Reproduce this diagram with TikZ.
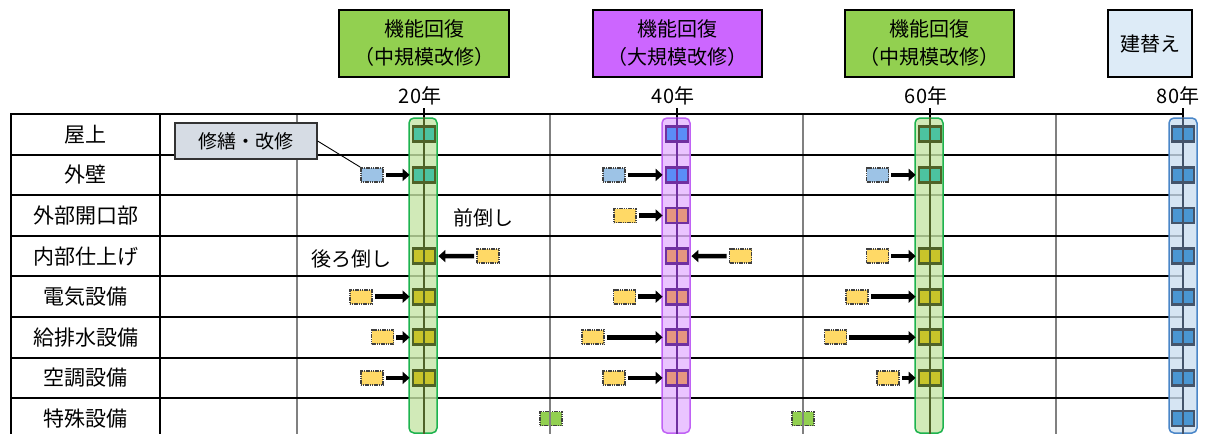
\documentclass[tikz,border=0pt]{standalone}
\usepackage{fontspec}
\newfontfamily\jp{Noto Sans CJK JP}
\usetikzlibrary{arrows.meta}
\definecolor{gbox}{HTML}{92D050}
\definecolor{pbox}{HTML}{CC66FF}
\definecolor{bbox}{HTML}{DDEBF7}
\definecolor{gband}{HTML}{C6E5A6}
\definecolor{gbandline}{HTML}{1DB34E}
\definecolor{pband}{HTML}{E5B5FF}
\definecolor{pbandline}{HTML}{C062F5}
\definecolor{bband}{HTML}{CCDFF0}
\definecolor{bbandline}{HTML}{4A86C8}
\definecolor{gdark}{HTML}{4F6228}
\definecolor{pdark}{HTML}{7030A0}
\definecolor{bdark}{HTML}{44546A}
\definecolor{teal}{HTML}{4CC3A0}
\definecolor{olive}{HTML}{C8C42A}
\definecolor{blue40}{HTML}{5B8DF7}
\definecolor{salmon}{HTML}{E59680}
\definecolor{blue80}{HTML}{4A96D2}
\definecolor{srcblue}{HTML}{9DC3E6}
\definecolor{srcyel}{HTML}{FFD966}
\definecolor{callfill}{HTML}{D6DCE4}
\definecolor{gridgray}{HTML}{808080}
\begin{document}
\begin{tikzpicture}[x=1pt,y=-1pt,
  txt/.style={font=\jp\fontsize{20}{28}\selectfont, inner sep=0pt},
  rowlbl/.style={font=\jp\fontsize{21}{26}\selectfont, inner sep=0pt},
  topbox/.style={draw=black, line width=2pt, fill=#1, minimum height=67pt, inner sep=0pt, align=center, font=\jp\fontsize{20}{28}\selectfont},
  bandbox/.style={draw=#1, line width=1.5pt, rounded corners=5pt, minimum width=28pt, minimum height=315pt, inner sep=0pt},
  sq/.style={draw=#1, line width=2.8pt, minimum width=22pt, minimum height=15pt, inner sep=0pt},
  src/.style={draw=black!75, line width=1.7pt, dash pattern=on 1.2pt off 0.6pt, fill=#1, minimum width=22pt, minimum height=14pt, inner sep=0pt},
  arr/.style={line width=4.5pt, -{Triangle[length=7pt,width=12pt]}, shorten <=2pt, shorten >=2pt},
  callout/.style={draw=black!80, line width=1.2pt, fill=callfill, minimum width=142pt, minimum height=36pt, inner sep=0pt, font=\jp\fontsize{19}{24}\selectfont}
]
\useasboundingbox (0,0) rectangle (1209,434);

% special equipment squares (under grid lines)
\node[src=gbox] (sp1) at (551,418.5) {};
\node[src=gbox] (sp2) at (803,418.5) {};

% grid
\foreach \x in {297,550,803,1056} \draw[gridgray, line width=2.2pt] (\x,114) -- (\x,434);
\foreach \k in {0,...,7} \draw[black, line width=2pt] (11,{114+40.6*\k}) -- (1183,{114+40.6*\k});
\draw[black, line width=2.2pt] (11,113) -- (11,434);
\draw[black, line width=2.2pt] (160,113) -- (160,434);

% year lines
\foreach \x in {424,677,930,1183} \draw[black, line width=1.5pt] (\x,108) -- (\x,434);

% bands
\node[bandbox=gbandline, fill=gband, fill opacity=0.8] (band20) at (423,275.5) {};
\node[bandbox=pbandline, fill=pband, fill opacity=0.8] (band40) at (676,275.5) {};
\node[bandbox=gbandline, fill=gband, fill opacity=0.8] (band60) at (929,275.5) {};
\node[bandbox=bbandline, fill=bband, fill opacity=0.8] (band80) at (1183,275.5) {};

% squares
\foreach \r/\c in {1/teal,2/teal,4/olive,5/olive,6/olive,7/olive}
  \node[sq=gdark, fill=\c] (sq20r\r) at (424,{114+40.6*(\r-0.5)}) {};
\foreach \r/\c in {1/blue40,2/blue40,3/salmon,4/salmon,5/salmon,6/salmon,7/salmon}
  \node[sq=pdark, fill=\c] (sq40r\r) at (677,{114+40.6*(\r-0.5)}) {};
\foreach \r/\c in {1/teal,2/teal,4/olive,5/olive,6/olive,7/olive}
  \node[sq=gdark, fill=\c] (sq60r\r) at (930,{114+40.6*(\r-0.5)}) {};
\foreach \r in {1,...,8}
  \node[sq=bdark, fill=blue80] (sq80r\r) at (1183,{114+40.6*(\r-0.5)}) {};

% year lines over bands
\draw[gdark, line width=1.8pt] (band20.north -| sq20r1) -- (band20.south -| sq20r1);
\draw[pdark, line width=1.8pt] (band40.north -| sq40r1) -- (band40.south -| sq40r1);
\draw[gdark, line width=1.8pt] (band60.north -| sq60r1) -- (band60.south -| sq60r1);
\draw[bdark, line width=1.8pt] (band80.north -| sq80r1) -- (band80.south -| sq80r1);

% sources and arrows
\foreach \y/\x/\r/\c in {20/372/2/srcblue, 20/361/5/srcyel, 20/382.5/6/srcyel, 20/372/7/srcyel,
    40/614/2/srcblue, 40/625/3/srcyel, 40/624.5/5/srcyel, 40/593/6/srcyel, 40/614/7/srcyel,
    60/877.5/2/srcblue, 60/877.5/4/srcyel, 60/857/5/srcyel, 60/835.5/6/srcyel, 60/888/7/srcyel} {
  \node[src=\c] (src\y r\r) at (\x,{114+40.6*(\r-0.5)}) {};
  \draw[arr] (src\y r\r) -- (sq\y r\r);
}
\node[src=srcyel] (src20r4) at (488,256.1) {};
\draw[arr] (src20r4) -- (sq20r4);
\node[src=srcyel] (src40r4) at (740.5,256.1) {};
\draw[arr] (src40r4) -- (sq40r4);

% callout
\node[callout] (call) at (246,141) {修繕・改修};
\draw[black, line width=0.9pt] (call.east) -- (src20r2.north west);

% annotations
\node[txt] (mae) at (483,218) {前倒し};
\node[txt] (ushiro) at (351,259) {後ろ倒し};

% row labels
\foreach \i/\t in {1/屋上,2/外壁,3/外部開口部,4/内部仕上げ,5/電気設備,6/給排水設備,7/空調設備,8/特殊設備}
  \node[rowlbl] (lab\i) at (85.5,{114+40.6*(\i-0.5)}) {\t};

% top boxes
\node[topbox=gbox, minimum width=170pt] (box20) at (424,43.5) {機能回復\\（中規模改修）};
\node[topbox=pbox, minimum width=169pt] (box40) at (677.5,43.5) {機能回復\\（大規模改修）};
\node[topbox=gbox, minimum width=169pt] (box60) at (929.5,43.5) {機能回復\\（中規模改修）};
\node[topbox=bbox, minimum width=84pt] (box80) at (1150,43.5) {建替え};

% year labels
\node[txt] (y20) at (420,96) {20年};
\node[txt] (y40) at (673,96) {40年};
\node[txt] (y60) at (926,96) {60年};
\node[txt] (y80) at (1178,96) {80年};
\end{tikzpicture}
\end{document}
